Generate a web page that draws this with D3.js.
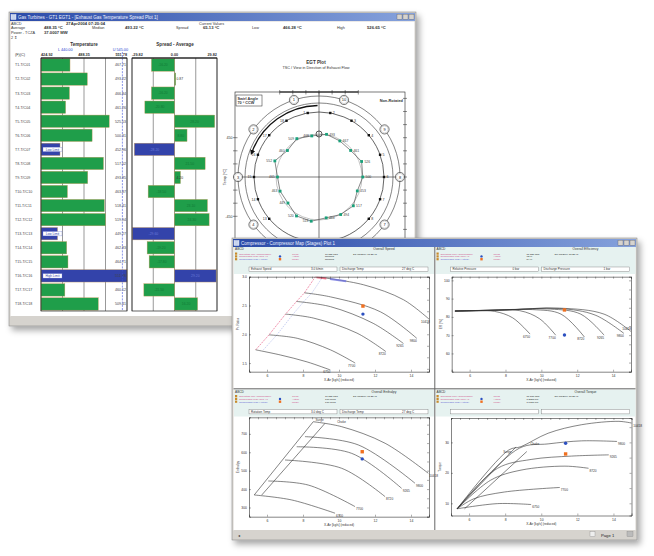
<!DOCTYPE html>
<html>
<head>
<meta charset="utf-8">
<script src="https://cdn.jsdelivr.net/npm/d3@7"></script>
<style>
  body { margin: 0; background: #fff; }
  svg { display: block; }
  text { font-family: "Liberation Sans", Arial, sans-serif; }
</style>
</head>
<body>
<svg id="chart" width="654" height="556"></svg>
<script>
// ---------- data: EGT spread window ----------
var tcNames = ["T1-T/C01","T2-T/C02","T3-T/C03","T4-T/C04","T5-T/C05","T6-T/C06","T7-T/C07","T8-T/C08","T9-T/C09",
  "T10-T/C10","T11-T/C11","T12-T/C12","T13-T/C13","T14-T/C14","T15-T/C15","T16-T/C16","T17-T/C17","T18-T/C18"];
var tcTemps = [467.71, 493.22, 466.84, 461.26, 525.53, 500.31, 452.96, 517.02, 493.85,
  463.87, 518.41, 519.94, 449.27, 462.83, 464.71, 551.78, 460.12, 509.41];
var tcSpread = [-16.2, 0.87, -16.2, -20.8, 28.2, 8.8, -28.2, 21.5, 4.2, -18.5, 23.1, 24.3, -29.6, -19.2, -17.8, 29.2, -21.5, 16.2];
var tcAlarm = [0,0,0,0,0,0,1,0,0,0,0,0,1,0,0,1,0,0];
var tempTicks = [424.92, 488.35, 551.78];
var spreadTicks = [-29.82, 0, 29.82];
var lowLimit = 440, highLimit = 545;
var burnerIds = [1,2,3,4,5,6,7,8,9,10];
var polarTicks = [-450, -300, -150, 0, 150, 300, 450];
var headLabels = ["Average", "Median", "Spread", "Low", "High"];
var headValues = ["488.35 °C", "493.22 °C", "65.13 °C", "466.28 °C", "526.65 °C"];

// ---------- data: compressor map window ----------
var speedNames = ["6750", "7700", "8720", "9265", "9800", "10418"];
var mapXTicks = [6, 8, 10, 12, 14];

var prLines = [
  [[5.37,1.73],[6.75,1.64],[8.23,1.52],[9.52,1.38]],
  [[6.11,1.99],[7.68,1.93],[9.52,1.73],[10.9,1.50]],
  [[7.03,2.35],[8.6,2.28],[11.0,2.02],[12.6,1.70]],
  [[7.64,2.57],[9.52,2.48],[11.9,2.19],[13.58,1.84]],
  [[8.08,2.72],[9.52,2.65],[12.3,2.39],[14.32,1.93]],
  [[8.69,3.0],[11.36,2.86],[13.58,2.60],[15.05,2.25]]
];
var prSurge = [[5.37,1.73],[6.11,1.99],[7.03,2.35],[7.64,2.57],[8.08,2.72],[8.69,3.0]];
var prControl = [[5.8,1.73],[6.55,1.99],[7.45,2.35],[8.05,2.57],[8.5,2.72],[9.1,3.0]];
var prRedSeg = [[8.75,2.99],[9.3,2.97]];
var prBlueSeg = [[9.5,2.96],[10.4,2.92]];
var prActual = [11.33, 2.35], prModel = [11.33, 2.49];

var effLines = [
  [[5.18,83.2],[6.5,83.3],[7.4,83.0],[8.4,79.5],[9.37,70.6]],
  [[5.18,83.2],[7.0,83.6],[8.8,83.4],[9.9,79.0],[10.8,70.0]],
  [[5.18,83.2],[7.0,83.6],[9.5,84.0],[11.1,81.5],[12.4,69.0]],
  [[5.18,83.2],[8.0,83.8],[10.5,84.3],[12.2,81.5],[13.5,70.0]],
  [[5.18,83.2],[8.0,83.8],[11.0,84.6],[13.0,81.0],[14.6,71.0]],
  [[5.18,83.2],[8.0,83.8],[11.0,84.8],[13.5,81.5],[15.0,72.0]]
];
var effActual = [11.29, 70.1], effModel = [11.29, 83.8];

var enthLines = [
  [[5.29,368],[7.37,341],[9.78,269]],
  [[6.07,444],[8.29,422],[10.89,305]],
  [[7.0,558],[10.15,513],[12.56,359]],
  [[7.65,630],[10.71,594],[13.48,404]],
  [[8.11,685],[11.07,640],[14.22,432]],
  [[8.57,766],[10.15,739],[12.56,649],[14.96,486]]
];
var enthSurgeA = [[5.29,368],[8.57,766]];
var enthSurgeB = [[5.71,368],[9.22,757]];
var enthActual = [11.29, 564], enthModel = [11.29, 603];

var torqLines = [
  [[5.34,8.2],[7.58,9.9],[9.44,9.6]],
  [[5.34,8.2],[6.27,11.5],[7.95,13.7],[11.03,15.2]],
  [[5.34,8.2],[7.2,17.6],[8.88,20.9],[11.31,22.2],[12.62,21.5]],
  [[5.34,8.2],[7.58,21.5],[9.44,24.4],[11.68,25.5],[13.74,25.9]],
  [[5.34,8.2],[8.79,28.1],[10.38,29.5],[12.24,30.5],[14.2,30.3]],
  [[5.34,8.2],[8.2,27.5],[8.88,28.6],[10.38,33.0],[12.24,35.8],[14.3,36.9],[15.04,36.3]]
];
var torqSurgeA = [[5.34,8.2],[8.6,28.5]];
var torqSurgeB = [[5.75,8.2],[9.2,27.0]];
var torqActual = [11.35, 29.7], torqModel = [11.35, 26.2];

var panelTitles = ["Overall Speed", "Overall Efficiency", "Overall Enthalpy", "Overall Torque"];
var legendNames = ["Operating Line (Compressor)", "Compressor Map (Ref) #1", "Compressor Map (Actual)"];
var legendKinds = ["Trend", "Actual", "Model"];
var legendValues = [
  ["11.355 kg/s", "Nominal", "Nominal"],
  ["11.355 kg/s", "72 %", "84 %"],
  ["11.355 kg/s", "160 kJ/kg", "176 kJ/kg"],
  ["11.365 kg/s", "1.2823 kW", "1.0627 kW"]
];
var legendDate = "23APR2004 13:25:41";
var inputFields = [
  [["Exhaust Speed", "3.0 k/min"], ["Discharge Temp", "27 deg C"]],
  [["Relative Pressure", "0 bar"], ["Discharge Pressure", "1 bar"]],
  [["Rotation Temp", "3.0 deg C"], ["Discharge Temp", "27 deg C"]],
  [["", ""], ["", ""]]
];

var svg = d3.select("#chart");
var defs = svg.append("defs");
var sh = defs.append("filter").attr("id", "sh").attr("x", "-10%").attr("y", "-10%").attr("width", "130%").attr("height", "130%");
sh.append("feDropShadow").attr("dx", 3).attr("dy", 4).attr("stdDeviation", 3).attr("flood-color", "#000").attr("flood-opacity", 0.35);
var tb = defs.append("linearGradient").attr("id", "tb");
tb.append("stop").attr("offset", "0%").attr("stop-color", "#2a4aa8");
tb.append("stop").attr("offset", "100%").attr("stop-color", "#86a2dc");
defs.append("marker").attr("id", "arr").attr("viewBox", "0 0 6 6").attr("refX", 3).attr("refY", 3)
  .attr("markerWidth", 4).attr("markerHeight", 4).attr("orient", "auto")
  .append("path").attr("d", "M0,0L6,3L0,6z").attr("fill", "#111");

function txt(g, x, y, s, size, opt) {
  opt = opt || {};
  return g.append("text").attr("x", x).attr("y", y).text(s)
    .attr("font-size", size).attr("fill", opt.fill || "#333")
    .attr("font-weight", opt.bold ? "bold" : null)
    .attr("text-anchor", opt.anchor || "start");
}

function drawWindow(x, y, w, h, title) {
  var g = svg.append("g");
  g.append("rect").attr("x", x).attr("y", y).attr("width", w).attr("height", h)
    .attr("fill", "#d6d3ce").attr("stroke", "#8a8a8a").attr("stroke-width", 0.6).attr("filter", "url(#sh)");
  g.append("rect").attr("x", x + 1).attr("y", y + 1).attr("width", w - 2).attr("height", 8)
    .attr("fill", "url(#tb)");
  g.append("rect").attr("x", x + 2).attr("y", y + 2.5).attr("width", 5).attr("height", 5).attr("fill", "#c8d4ee").attr("stroke", "#fff").attr("stroke-width", 0.4);
  txt(g, x + 9, y + 7, title, 4.5, {fill: "#eef2ff"});
  [18, 12, 6].forEach(function (d) {
    g.append("rect").attr("x", x + w - d - 1).attr("y", y + 2.2).attr("width", 5).attr("height", 5)
      .attr("fill", "#d6d3ce").attr("stroke", "#555").attr("stroke-width", 0.3);
  });
  g.append("rect").attr("x", x + 1.5).attr("y", y + 9.5).attr("width", w - 3).attr("height", h - 19)
    .attr("fill", "#fff");
  return g;
}

// parts of window 1 that lie under window 2 are not drawn
function underWin2(p) { return p[0] > 229 && p[1] > 234; }

// =============== Window 1 ===============
var w1 = drawWindow(9, 12, 407, 314, "Gas Turbines - GT1 EGT1 - [Exhaust Gas Temperature Spread Plot 1]");
w1.append("rect").attr("x", 10.5).attr("y", 316).attr("width", 404).attr("height", 8.5).attr("fill", "#d6d3ce");

// header
txt(w1, 11, 24.5, "ABCD", 3.8);
txt(w1, 66, 24.5, "27Apr2004 07:20:04", 4.2, {bold: true});
txt(w1, 199, 24.5, "Current Values", 3.8);
var headX = [11, 92, 176, 252, 337];
var headVX = [44, 125, 203, 283, 367];
headLabels.forEach(function (s, i) {
  txt(w1, headX[i], 29, s, 3.8);
  txt(w1, headVX[i], 29, headValues[i], 4.2, {bold: true});
});
txt(w1, 11, 33.5, "Power - TCZA", 3.8);
txt(w1, 44, 33.5, "37.0007 MW", 4.2, {bold: true});
txt(w1, 11, 38.5, "2 \u21D5", 3.8);

// bar charts
var yRow = d3.scaleBand().domain(tcNames).range([58, 311]).paddingInner(0.12).paddingOuter(0.06);
var xTemp = d3.scaleLinear().domain([tempTicks[0], tempTicks[2]]).range([41, 127]);
var xSpread = d3.scaleLinear().domain([spreadTicks[0], spreadTicks[2]]).range([132, 217]);

txt(w1, 84, 46, "Temperature", 4.6, {bold: true, anchor: "middle"});
txt(w1, 175, 46, "Spread - Average", 4.6, {bold: true, anchor: "middle"});
txt(w1, xTemp(lowLimit) + 14, 51, "L 440.00", 3.8, {fill: "#2a3fd0", anchor: "middle"});
txt(w1, xTemp(highLimit) - 2, 51, "U 545.00", 3.8, {fill: "#2a3fd0", anchor: "middle"});
txt(w1, 15, 56, "(F)(C)", 3.8);
tempTicks.forEach(function (t, i) {
  txt(w1, xTemp(t), 56, t.toFixed(2), 3.8, {bold: true, anchor: ["start", "middle", "end"][i]});
});
spreadTicks.forEach(function (t, i) {
  txt(w1, xSpread(t), 56, t.toFixed(2), 3.8, {bold: true, anchor: ["start", "middle", "end"][i]});
});

tcNames.forEach(function (n) {
  txt(w1, 15, yRow(n) + yRow.bandwidth() / 2 + 1.4, n, 3.6, {fill: "#444"});
});

// temperature panel
var tg = w1.append("g");
var quarterT = d3.range(5).map(function (i) { return tempTicks[0] + i * (tempTicks[2] - tempTicks[0]) / 4; });
tg.selectAll("line.grid").data(quarterT).join("line")
  .attr("x1", function (d) { return xTemp(d); }).attr("x2", function (d) { return xTemp(d); })
  .attr("y1", 58).attr("y2", 311).attr("stroke", "#333").attr("stroke-width", 0.5);
tg.selectAll("rect.bar").data(tcTemps).join("rect")
  .attr("x", xTemp(tempTicks[0]))
  .attr("y", function (d, i) { return yRow(tcNames[i]); })
  .attr("width", function (d) { return xTemp(d) - xTemp(tempTicks[0]); })
  .attr("height", yRow.bandwidth())
  .attr("fill", function (d, i) { return tcAlarm[i] ? "#3343aa" : "#1f9e4a"; })
  .attr("stroke", "#c49a5a").attr("stroke-width", 0.4);
tg.selectAll("text.val").data(tcTemps).join("text")
  .attr("x", 126).attr("y", function (d, i) { return yRow(tcNames[i]) + yRow.bandwidth() / 2 + 1.4; })
  .attr("text-anchor", "end").attr("font-size", 3.6).attr("fill", "#444")
  .text(function (d) { return d.toFixed(2); });
tcAlarm.forEach(function (a, i) {
  if (!a) return;
  var yy = yRow(tcNames[i]) + yRow.bandwidth() / 2;
  tg.append("rect").attr("x", 43).attr("y", yy - 2.2).attr("width", 19).attr("height", 4.4)
    .attr("fill", "#fff").attr("stroke", "#6a78d0").attr("stroke-width", 0.3);
  txt(tg, 52.5, yy + 1.2, i === 15 ? "High Limit" : "Low Limit", 3.2, {fill: "#3343aa", anchor: "middle"});
});
tg.append("line").attr("x1", xTemp(highLimit)).attr("x2", xTemp(highLimit)).attr("y1", 52).attr("y2", 311)
  .attr("stroke", "#3a4fd8").attr("stroke-width", 0.6).attr("stroke-dasharray", "2,1.2");
tg.append("rect").attr("x", 41).attr("y", 58).attr("width", 86).attr("height", 253)
  .attr("fill", "none").attr("stroke", "#222").attr("stroke-width", 0.7);
tg.append("line").attr("x1", 41).attr("x2", 127).attr("y1", 58).attr("y2", 58).attr("stroke", "#111").attr("stroke-width", 1.2);

// spread panel
var sg = w1.append("g");
var quarterS = d3.range(5).map(function (i) { return spreadTicks[0] + i * (spreadTicks[2] - spreadTicks[0]) / 4; });
sg.selectAll("line.grid").data(quarterS).join("line")
  .attr("x1", function (d) { return xSpread(d); }).attr("x2", function (d) { return xSpread(d); })
  .attr("y1", 58).attr("y2", 311).attr("stroke", "#333").attr("stroke-width", 0.5);
sg.selectAll("rect.bar").data(tcSpread).join("rect")
  .attr("x", function (d) { return xSpread(Math.min(0, d)); })
  .attr("y", function (d, i) { return yRow(tcNames[i]); })
  .attr("width", function (d) { return Math.abs(xSpread(d) - xSpread(0)); })
  .attr("height", yRow.bandwidth())
  .attr("fill", function (d, i) { return tcAlarm[i] ? "#3343aa" : "#1f9e4a"; })
  .attr("stroke", "#c49a5a").attr("stroke-width", 0.4);
sg.selectAll("text.val").data(tcSpread).join("text")
  .attr("x", function (d) {
    var w = Math.abs(xSpread(d) - xSpread(0));
    return w < 8 ? xSpread(0) + 2 : (xSpread(d) + xSpread(0)) / 2;
  })
  .attr("y", function (d, i) { return yRow(tcNames[i]) + yRow.bandwidth() / 2 + 1.3; })
  .attr("text-anchor", function (d) { return Math.abs(xSpread(d) - xSpread(0)) < 8 ? "start" : "middle"; })
  .attr("font-size", 3.4)
  .attr("fill", function (d, i) { return Math.abs(xSpread(d) - xSpread(0)) < 8 ? "#333" : (tcAlarm[i] ? "#6a7ad8" : "#127a36"); })
  .text(function (d) { return d.toFixed(2); });
sg.append("rect").attr("x", 132).attr("y", 58).attr("width", 85).attr("height", 253)
  .attr("fill", "none").attr("stroke", "#222").attr("stroke-width", 0.7);
sg.append("line").attr("x1", 132).attr("x2", 217).attr("y1", 58).attr("y2", 58).attr("stroke", "#111").attr("stroke-width", 1.2);

// EGT polar plot
var cx = 319, cy = 177;
var eg = w1.append("g");
txt(eg, 316, 63.5, "EGT Plot", 4.6, {bold: true, anchor: "middle"});
txt(eg, 316, 68.5, "TSC / View in Direction of Exhaust Flow", 3.8, {anchor: "middle"});
eg.append("rect").attr("x", 235).attr("y", 92).attr("width", 170).attr("height", 222)
  .attr("fill", "none").attr("stroke", "#222").attr("stroke-width", 0.6);
var pS = d3.scaleLinear().domain([0, 150]).range([0, 13.1]);
polarTicks.forEach(function (t) {
  eg.append("line").attr("x1", cx + pS(t)).attr("x2", cx + pS(t)).attr("y1", 90).attr("y2", 94.5).attr("stroke", "#222").attr("stroke-width", 0.5);
  eg.append("line").attr("x1", 233).attr("x2", 237.5).attr("y1", cy - pS(t)).attr("y2", cy - pS(t)).attr("stroke", "#222").attr("stroke-width", 0.5);
});
eg.append("line").attr("x1", cx + pS(-450)).attr("x2", cx + pS(450)).attr("y1", 92).attr("y2", 92).attr("stroke", "#111").attr("stroke-width", 1);
d3.range(-900, 901, 150).forEach(function (t) {
  eg.append("line").attr("x1", 403).attr("x2", 407).attr("y1", cy - pS(t)).attr("y2", cy - pS(t)).attr("stroke", "#222").attr("stroke-width", 0.5);
});
txt(eg, 232.5, cy - pS(450) + 1.3, "450", 3.6, {anchor: "end"});
txt(eg, 232.5, cy - pS(-450) + 1.3, "-450", 3.6, {anchor: "end"});
eg.append("text").attr("transform", "translate(226," + cy + ") rotate(-90)").attr("text-anchor", "middle")
  .attr("font-size", 3.8).attr("fill", "#333").text("Temp [°C]");
eg.append("line").attr("x1", 235).attr("x2", 405).attr("y1", cy).attr("y2", cy).attr("stroke", "#222").attr("stroke-width", 0.6);
eg.append("line").attr("x1", cx).attr("x2", cx).attr("y1", 92).attr("y2", 314).attr("stroke", "#222").attr("stroke-width", 0.6);
[81, 74].forEach(function (r) {
  eg.append("circle").attr("cx", cx).attr("cy", cy).attr("r", r).attr("fill", "none").attr("stroke", "#333").attr("stroke-width", 0.6);
});
eg.append("circle").attr("cx", cx).attr("cy", cy).attr("r", 65).attr("fill", "none").attr("stroke", "#222").attr("stroke-width", 0.7);

function polar(r, deg) {
  var a = deg * Math.PI / 180;
  return [cx + r * Math.sin(a), cy - r * Math.cos(a)];
}
burnerIds.forEach(function (b) {
  var p = polar(81, -18 - (b - 1) * 36);
  if (underWin2(p)) return;
  eg.append("circle").attr("cx", p[0]).attr("cy", p[1]).attr("r", 4.6).attr("fill", "#fff").attr("stroke", "#222").attr("stroke-width", 0.6);
  eg.append("circle").attr("cx", p[0]).attr("cy", p[1]).attr("r", 3.6).attr("fill", "none").attr("stroke", "#777").attr("stroke-width", 0.3);
  txt(eg, p[0], p[1] + 1.5, String(b), 4, {anchor: "middle", fill: "#222"});
});
tcNames.forEach(function (n, i) {
  var deg = -10 + i * 20;
  var p = polar(65, deg);
  if (underWin2([p[0], p[1] + 3])) return;
  eg.append("rect").attr("x", p[0] - 1.2).attr("y", p[1] - 1.2).attr("width", 2.4).attr("height", 2.4).attr("fill", "#111");
  var side = Math.sin(deg * Math.PI / 180) >= 0 ? 1 : -1;
  txt(eg, p[0] + side * 2.5, p[1] + 1.3, String(i + 1), 3.6, {anchor: side > 0 ? "start" : "end", fill: "#333"});
});
var swirl = d3.path();
swirl.arc(cx, cy, 71.5, -Math.PI / 2 - 0.02, -Math.PI / 2 - 70 * Math.PI / 180, true);
eg.append("path").attr("d", swirl.toString()).attr("fill", "none").attr("stroke", "#111").attr("stroke-width", 1.3)
  .attr("marker-end", "url(#arr)");

var rT = d3.scaleLinear().domain([tempTicks[0], tempTicks[2]]).range([39, 47]);
eg.append("circle").attr("cx", cx).attr("cy", cy).attr("r", rT(488.35)).attr("fill", "none").attr("stroke", "#888").attr("stroke-width", 0.5);
var polyPts = tcTemps.map(function (t, i) { return polar(rT(t), -10 + i * 20); });
eg.append("path").attr("d", d3.line().curve(d3.curveLinearClosed)(polyPts))
  .attr("fill", "none").attr("stroke", "#555").attr("stroke-width", 0.7);
eg.selectAll("rect.tc").data(polyPts).join("rect")
  .attr("x", function (d) { return d[0] - 1.4; }).attr("y", function (d) { return d[1] - 1.4; })
  .attr("width", 2.8).attr("height", 2.8).attr("fill", "#1aa07a");
tcTemps.forEach(function (t, i) {
  var deg = -10 + i * 20;
  var p = polyPts[i];
  var side = Math.sin(deg * Math.PI / 180) >= 0 ? 1 : -1;
  txt(eg, p[0] + side * 2.8, p[1] + 1.2, String(Math.round(t)), 3.4, {anchor: side > 0 ? "start" : "end", fill: "#444"});
});
var top0 = polar(rT(488.35), 0);
eg.append("circle").attr("cx", top0[0]).attr("cy", top0[1]).attr("r", 3).attr("fill", "none").attr("stroke", "#333").attr("stroke-width", 0.8);
eg.append("rect").attr("x", 236).attr("y", 95).attr("width", 26).attr("height", 11)
  .attr("fill", "#fff").attr("stroke", "#222").attr("stroke-width", 0.5);
txt(eg, 237.5, 99.5, "Swirl Angle", 3.8, {bold: true});
txt(eg, 237.5, 104.3, "70 ° CCW", 3.8, {bold: true});
txt(eg, 403, 101.5, "Non-Rotated", 3.9, {bold: true, anchor: "end"});

// =============== Window 2 ===============
var w2 = drawWindow(232, 238, 405, 302, "Compressor - Compressor Map (Stages) Plot 1");
w2.append("rect").attr("x", 233.5).attr("y", 530).attr("width", 402).attr("height", 8.5).attr("fill", "#d6d3ce");
txt(w2, 238, 536.5, "\u25C2", 4);
w2.append("rect").attr("x", 590).attr("y", 531.5).attr("width", 5).attr("height", 5).attr("fill", "#eee").attr("stroke", "#777").attr("stroke-width", 0.3);
txt(w2, 601, 536.5, "Page 1", 4.2, {fill: "#222"});
w2.append("rect").attr("x", 627).attr("y", 531.5).attr("width", 6).attr("height", 5).attr("fill", "#bbb").attr("stroke", "#777").attr("stroke-width", 0.3);

function panelHeader(px, py, k) {
  var g = w2.append("g");
  g.append("rect").attr("x", px).attr("y", py).attr("width", 200).attr("height", 27).attr("fill", "#e6f2f0");
  txt(g, px + 1, py + 3.4, "ABCD", 3.2);
  txt(g, px + 150, py + 3.4, panelTitles[k], 3.4, {anchor: "middle"});
  legendNames.forEach(function (n, i) {
    var yy = py + 6.6 + i * 2.8;
    g.append("rect").attr("x", px + 1).attr("y", yy - 1.1).attr("width", 2.2).attr("height", 2.2).attr("fill", "#c88a2a");
    txt(g, px + 5, yy + 0.9, n, 2.5, {fill: i < 2 ? "#d04a86" : "#5a5ad0"});
    if (i === 1) g.append("circle").attr("cx", px + 46).attr("cy", yy).attr("r", 1.2).attr("fill", "#2b4fc0");
    if (i === 2) g.append("rect").attr("x", px + 44.8).attr("y", yy - 1.2).attr("width", 2.4).attr("height", 2.4).attr("fill", "#f07020");
    txt(g, px + 58, yy + 0.9, legendKinds[i], 2.5, {fill: "#d04a86"});
    txt(g, px + 91, yy + 0.9, legendValues[k][i], 2.5, {fill: "#222"});
    if (i === 0) txt(g, px + 119, yy + 0.9, legendDate, 2.5, {fill: "#222"});
  });
  inputFields[k].forEach(function (f, j) {
    var bx = px + 15 + j * 91;
    g.append("rect").attr("x", bx).attr("y", py + 20).attr("width", 88).attr("height", 4.4)
      .attr("fill", "#fff").attr("stroke", "#777").attr("stroke-width", 0.4);
    if (f[0]) txt(g, bx + 2, py + 23.4, f[0], 3, {fill: "#333"});
    if (f[1]) txt(g, bx + 62, py + 23.4, f[1], 3, {fill: "#333"});
  });
}

function mapPanel(o) {
  var g = w2.append("g");
  var x = d3.scaleLinear().domain([5, 15]).range([o.x0, o.x1]);
  var y = d3.scaleLinear().domain(o.yDom).range([o.y1, o.y0]);
  defs.append("clipPath").attr("id", "clip" + o.id).append("rect")
    .attr("x", o.x0).attr("y", o.y0).attr("width", o.x1 - o.x0).attr("height", o.y1 - o.y0);
  var line = d3.line().x(function (d) { return x(d[0]); }).y(function (d) { return y(d[1]); })
    .curve(d3.curveCatmullRom.alpha(0.5));
  var straight = d3.line().x(function (d) { return x(d[0]); }).y(function (d) { return y(d[1]); });
  var body = g.append("g").attr("clip-path", "url(#clip" + o.id + ")");
  (o.guides || []).forEach(function (gd) {
    body.append("path").attr("d", straight(gd.pts)).attr("fill", "none")
      .attr("stroke", gd.color).attr("stroke-width", gd.width || 0.6)
      .attr("stroke-dasharray", gd.dash || null).attr("opacity", gd.opacity || 1);
  });
  body.selectAll("path.speed").data(o.lines).join("path")
    .attr("d", function (d) { return line(d); })
    .attr("fill", "none").attr("stroke", "#333").attr("stroke-width", 0.6);
  (o.segs || []).forEach(function (s) {
    body.append("path").attr("d", straight(s.pts)).attr("stroke", s.color).attr("stroke-width", 2).attr("opacity", 0.75);
  });
  o.lines.forEach(function (d, i) {
    var e = d[d.length - 1];
    var last = i === o.lines.length - 1;
    var dy = last && o.lastAbove ? -2 : 3.5;
    txt(g, x(e[0]) + (o.anchor === "start" ? 1 : 0), y(e[1]) + dy, speedNames[i], 3.2, {anchor: o.anchor, fill: "#333"});
  });
  g.append("rect").attr("x", x(o.model[0]) - 1.7).attr("y", y(o.model[1]) - 1.7).attr("width", 3.4).attr("height", 3.4).attr("fill", "#f07020");
  g.append("circle").attr("cx", x(o.actual[0])).attr("cy", y(o.actual[1])).attr("r", 1.7).attr("fill", "#2b4fc0");

  g.append("g").attr("transform", "translate(0," + o.y1 + ")")
    .call(d3.axisBottom(x).tickValues(mapXTicks).tickSize(-2).tickPadding(3).tickFormat(d3.format("d")));
  g.append("g").attr("transform", "translate(0," + o.y0 + ")")
    .call(d3.axisTop(x).ticks(20).tickSize(-2).tickFormat(""));
  g.append("g").attr("transform", "translate(" + o.x0 + ",0)")
    .call(d3.axisLeft(y).tickValues(o.yTicks).tickSize(-2).tickPadding(2));
  g.append("g").attr("transform", "translate(" + o.x1 + ",0)")
    .call(d3.axisRight(y).ticks(10).tickSize(-2).tickFormat(""));
  g.selectAll(".domain").attr("stroke", "#333").attr("stroke-width", 0.6);
  g.selectAll(".tick line").attr("stroke", "#333").attr("stroke-width", 0.4);
  g.selectAll(".tick text").attr("font-size", 3.4).attr("fill", "#333").attr("font-family", "Liberation Sans, Arial, sans-serif");
  txt(g, (o.x0 + o.x1) / 2, o.y1 + 9.5, "X-Air [kg/s] (reduced)", 3.2, {anchor: "middle"});
  g.append("text").attr("transform", "translate(" + (o.x0 - 10) + "," + ((o.y0 + o.y1) / 2) + ") rotate(-90)")
    .attr("text-anchor", "middle").attr("font-size", 3.2).attr("fill", "#333").text(o.yTitle);
  (o.notes || []).forEach(function (nt) {
    txt(g, x(nt[0]), y(nt[1]), nt[2], 3, {fill: "#333"});
  });
}

panelHeader(234, 247, 0);
panelHeader(435.5, 247, 1);
panelHeader(234, 389.5, 2);
panelHeader(435.5, 389.5, 3);

mapPanel({id: "tl", x0: 249, x1: 429, y0: 276.7, y1: 371.7, yDom: [1.35, 3.0], yTicks: [1.5, 2.0, 2.5, 3.0],
  yTitle: "Pr. Ratio", lines: prLines, anchor: "end", actual: prActual, model: prModel,
  guides: [{pts: prSurge, color: "#ee7a9a", dash: "2,1", width: 0.8}, {pts: prControl, color: "#a8b4ea", dash: "1.5,1", width: 0.6}],
  segs: [{pts: prRedSeg, color: "#e8506a"}, {pts: prBlueSeg, color: "#6a6ee0"}]});
mapPanel({id: "tr", x0: 451.7, x1: 631, y0: 276.7, y1: 371.7, yDom: [50, 102], yTicks: [60, 70, 80, 90, 100],
  yTitle: "Eff. [%]", lines: effLines, anchor: "end", lastAbove: true, actual: effActual, model: effModel});
mapPanel({id: "bl", x0: 249, x1: 429, y0: 417.3, y1: 516.7, yDom: [250, 790], yTicks: [300, 400, 500, 600, 700],
  yTitle: "Enthalpy", lines: enthLines, anchor: "start", actual: enthActual, model: enthModel,
  guides: [{pts: enthSurgeA, color: "#333"}, {pts: enthSurgeB, color: "#333"}],
  notes: [[8.7, 772, "Surge"], [9.9, 760, "Choke"]]});
mapPanel({id: "br", x0: 451, x1: 631.5, y0: 418, y1: 515.5, yDom: [6, 38], yTicks: [10, 20, 30],
  yTitle: "Torque", lines: torqLines, anchor: "start", actual: torqActual, model: torqModel,
  guides: [{pts: torqSurgeA, color: "#333"}, {pts: torqSurgeB, color: "#333"}],
  notes: [[7.9, 26.5, "Surge"], [9.4, 29.3, "Choke"]]});

// panel separators
w2.append("line").attr("x1", 434.8).attr("x2", 434.8).attr("y1", 247).attr("y2", 530).attr("stroke", "#666").attr("stroke-width", 1);
w2.append("line").attr("x1", 233.5).attr("x2", 635.5).attr("y1", 388.8).attr("y2", 388.8).attr("stroke", "#666").attr("stroke-width", 1);
</script>
</body>
</html>
